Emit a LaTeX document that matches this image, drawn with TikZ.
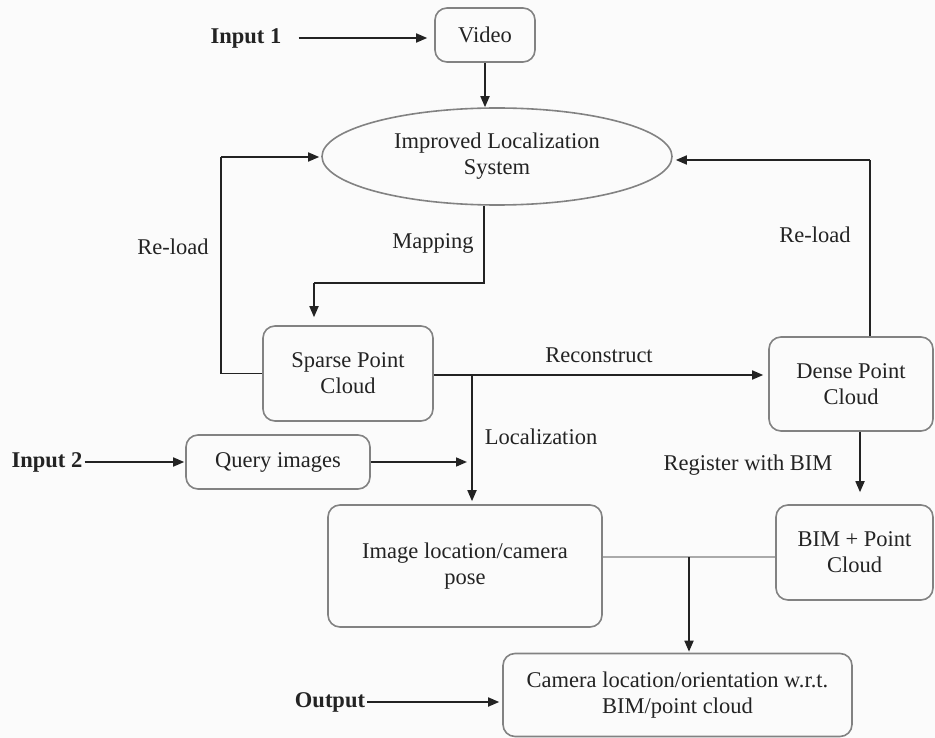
\documentclass[tikz,border=0pt]{standalone}
\usepackage{fontspec}
\setmainfont{Liberation Serif}
\usetikzlibrary{arrows.meta,shapes.geometric,calc}
\definecolor{boxgrey}{RGB}{130,130,130}
\definecolor{inkdark}{RGB}{35,35,35}
\definecolor{paper}{RGB}{251,251,251}
\definecolor{thingrey}{RGB}{170,170,170}
\begin{document}
\begin{tikzpicture}[x=1pt,y=-1pt,
  every node/.style={font=\fontsize{22.5}{26}\selectfont, text=inkdark},
  rbox/.style={draw=boxgrey, line width=1.6pt, rounded corners=12pt, align=center, inner sep=0pt},
  oval/.style={draw=boxgrey, line width=1.6pt, ellipse, align=center, inner sep=0pt},
  lbl/.style={inner sep=0pt},
  blbl/.style={inner sep=0pt, font=\fontsize{22.5}{26}\selectfont\bfseries},
  arr/.style={draw=inkdark, line width=1.7pt, -{Triangle[length=11pt,width=9pt]}},
  plain/.style={draw=inkdark, line width=1.7pt},
  faint/.style={draw=thingrey, line width=1.2pt}]
\fill[paper] (0,0) rectangle (935,738);
\useasboundingbox (0,0) rectangle (935,738);

% nodes
\node[rbox, minimum width=100pt, minimum height=54pt] (video) at (485,35) {Video};
\node[oval, minimum width=350pt, minimum height=97pt] (ils) at (497,156.5) {Improved Localization\\System};
\node[rbox, minimum width=170pt, minimum height=95pt] (sparse) at (348,373.5) {Sparse Point\\Cloud};
\node[rbox, minimum width=164pt, minimum height=94pt] (dense) at (851,384) {Dense Point\\Cloud};
\node[rbox, minimum width=184pt, minimum height=54pt] (query) at (278,462) {Query images};
\node[rbox, minimum width=274pt, minimum height=122pt] (imgloc) at (465,566) {Image location/camera\\pose};
\node[rbox, minimum width=157pt, minimum height=95pt] (bim) at (854.5,552.5) {BIM + Point\\Cloud};
\node[rbox, minimum width=349pt, minimum height=83pt] (camera) at (677.5,695) {Camera location/orientation w.r.t.\\BIM/point cloud};

% labels
\node[blbl] (in1) at (246,38) {Input 1};
\node[blbl] (in2) at (47,462) {Input 2};
\node[blbl] (out) at (330,702) {Output};
\node[lbl] (reloadL) at (173,247) {Re-load};
\node[lbl] (mapping) at (433,243) {Mapping};
\node[lbl] (reloadR) at (815,235) {Re-load};
\node[lbl] (recon) at (599,355) {Reconstruct};
\node[lbl] (localiz) at (541,437) {Localization};
\node[lbl] (register) at (748,465) {Register with BIM};

% helper coordinates
\coordinate (m1) at (484,283);
\coordinate (m2) at (314,283);
\coordinate (rl) at (221,157);
\coordinate (rr) at (870,160);
\coordinate (lz) at (472,375);
\coordinate (gj) at (689,557);

% connectors
\draw[arr, shorten <=17pt, shorten >=7pt] (in1.east) -- (in1.east -| video.west);
\draw[arr] (video.south) -- (video.south |- ils.north);
\draw[plain] (m1 |- ils.south) -- (m1) -- (m2);
\draw[arr, shorten >=8pt] (m2) -- (m2 |- sparse.north);
\draw[plain] (sparse.west) -| (rl);
\draw[arr, shorten >=2pt] (rl) -- (rl -| ils.west);
\draw[plain] (dense.north -| rr) -- (rr);
\draw[arr, shorten >=3pt] (rr) -- (rr -| ils.east);
\draw[arr, shorten >=5pt] (sparse.east |- lz) -- (lz -| dense.west);
\draw[arr, shorten >=3pt] (lz) -- (lz |- imgloc.north);
\draw[arr, shorten <=2pt, shorten >=1pt] (in2.east) -- (in2.east -| query.west);
\draw[arr, shorten >=5pt] (query.east) -- (query.east -| lz);
\draw[arr, shorten >=12pt] ([xshift=9pt]dense.south) -- ([xshift=9pt]dense.south |- bim.north);
\draw[faint] (imgloc.east |- gj) -- (bim.west |- gj);
\draw[arr, shorten >=1pt] (gj) -- (gj |- camera.north);
\draw[arr, shorten <=2pt, shorten >=3pt] (out.east) -- (out.east -| camera.west);
\end{tikzpicture}
\end{document}
